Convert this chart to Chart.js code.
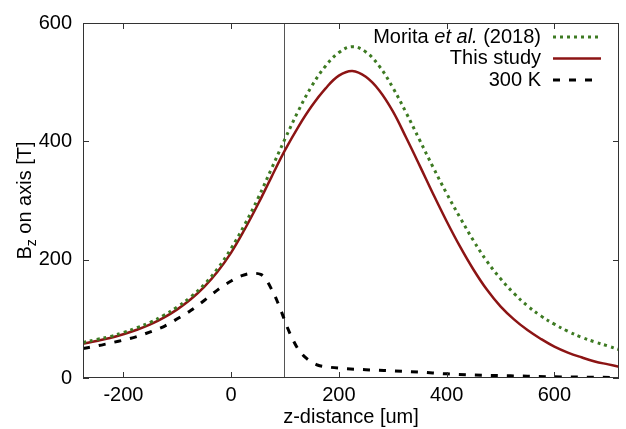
<!DOCTYPE html>
<html>
<head>
<meta charset="utf-8">
<script src="https://cdn.jsdelivr.net/npm/chart.js@4.4.1/dist/chart.umd.min.js"></script>
<style>
    html, body { margin: 0; padding: 0; background: #fff; }
    #wrap { width: 626px; height: 429px; }
</style>
</head>
<body>
<div id="wrap"><canvas id="bzchart"></canvas></div>
<script>
// z positions [um] shared by the two full-field curves
var zGrid = [-275, -250, -225, -200, -175, -150, -125, -100, -75, -50, -25, 0, 25, 50, 75, 100,
    125, 150, 175, 200, 225, 250, 275, 300, 325, 350, 375, 400, 425, 450, 475, 500, 525, 550,
    575, 600, 625, 650, 675, 700, 720];
var thisStudy = [58, 62.5, 67.5, 74, 81.5, 90.5, 102, 116, 133, 154, 180, 212, 251, 294, 340, 385,
    425, 460, 489, 511, 519, 509, 486, 451, 406, 359, 311, 265, 222, 183, 149, 121, 99, 81,
    66, 53, 43, 35, 28, 23, 19];
var morita2018 = [60, 65, 70, 77, 85, 94, 106, 120, 137, 158, 185, 219, 259, 304, 354, 404,
    452, 494, 527, 550, 560, 551, 527, 491, 448, 402, 356, 312, 271, 232, 197, 168, 143, 122,
    105, 91, 79, 69, 61, 54, 48];

// 300 K curve, sampled more densely around its peak
var zWarm = [-275, -250, -225, -200, -175, -150, -125, -100, -75, -50, -25, 0, 20, 40, 55, 65,
    75, 85, 95, 105, 115, 125, 140, 160, 185, 210, 250, 300, 350, 400, 450, 500, 550, 600, 650, 720];
var warm300K = [50, 54, 59, 64, 70, 78, 87, 100, 114, 131, 149, 164, 173, 177, 175, 166,
    150, 131, 108, 84, 64, 48, 33, 22, 18, 16, 14, 12, 10, 7, 5, 4, 3, 2, 1.5, 0.8];

var xTicks = [-200, 0, 200, 400, 600];
var yTicks = [0, 200, 400, 600];
var markerZ = 98;

var FONT = '"Liberation Sans", Arial, Helvetica, sans-serif';
var RED = '#8c1414';
var GREEN = '#3d7a22';

function toPoints(xs, ys) {
    return xs.map(function (x, i) {
        return {x: x, y: ys[i]};
    });
}

var legendRows = [
    {parts: [['Morita ', ''], ['et al.', 'italic '], [' (2018)', '']], color: GREEN, dash: [3, 4], width: 3},
    {parts: [['This study', '']], color: RED, dash: [], width: 2.5},
    {parts: [['300 K', '']], color: '#000', dash: [7, 9], width: 3}
];

var framePlugin = {
    id: 'frame',
    beforeDatasetsDraw: function (chart) {
        var ctx = chart.ctx;
        var area = chart.chartArea;
        var px = chart.scales.x.getPixelForValue(markerZ);
        ctx.save();
        ctx.strokeStyle = '#555';
        ctx.lineWidth = 1;
        ctx.beginPath();
        ctx.moveTo(Math.round(px) + 0.5, area.top);
        ctx.lineTo(Math.round(px) + 0.5, area.bottom);
        ctx.stroke();
        ctx.restore();
    },
    afterDatasetsDraw: function (chart) {
        var ctx = chart.ctx;
        var area = chart.chartArea;
        var xs = chart.scales.x;
        var ys = chart.scales.y;
        ctx.save();
        ctx.strokeStyle = '#333';
        ctx.lineWidth = 1;
        ctx.strokeRect(area.left + 0.5, area.top + 0.5, area.right - area.left - 1, area.bottom - area.top - 1);

        // gnuplot style inward ticks, mirrored
        ctx.beginPath();
        xTicks.forEach(function (v) {
            var p = Math.round(xs.getPixelForValue(v)) + 0.5;
            ctx.moveTo(p, area.bottom);
            ctx.lineTo(p, area.bottom - 6);
            ctx.moveTo(p, area.top);
            ctx.lineTo(p, area.top + 6);
        });
        yTicks.forEach(function (v) {
            var p = Math.round(ys.getPixelForValue(v)) + 0.5;
            ctx.moveTo(area.left, p);
            ctx.lineTo(area.left + 6, p);
            ctx.moveTo(area.right, p);
            ctx.lineTo(area.right - 6, p);
        });
        ctx.stroke();

        // legend
        var textRight = 541;
        var lineX0 = 553;
        var lineX1 = 601;
        ctx.textBaseline = 'middle';
        legendRows.forEach(function (row, i) {
            var y = 37 + i * 21.5;
            var x = textRight;
            ctx.fillStyle = '#000';
            for (var k = row.parts.length - 1; k >= 0; k--) {
                ctx.font = row.parts[k][1] + '20px ' + FONT;
                ctx.textAlign = 'right';
                ctx.fillText(row.parts[k][0], x, y);
                x -= ctx.measureText(row.parts[k][0]).width;
            }
            ctx.strokeStyle = row.color;
            ctx.lineWidth = row.width;
            ctx.setLineDash(row.dash);
            ctx.beginPath();
            ctx.moveTo(lineX0, y);
            ctx.lineTo(lineX1, y);
            ctx.stroke();
            ctx.setLineDash([]);
        });

        // y axis title with subscript
        ctx.translate(24, (area.top + area.bottom) / 2);
        ctx.rotate(-Math.PI / 2);
        ctx.fillStyle = '#000';
        ctx.textAlign = 'left';
        ctx.textBaseline = 'alphabetic';
        var big = '20px ' + FONT;
        var small = '14px ' + FONT;
        ctx.font = big;
        var wB = ctx.measureText('B').width;
        var rest = ' on axis [T]';
        var wRest = ctx.measureText(rest).width;
        ctx.font = small;
        var wZ = ctx.measureText('z').width;
        var start = -(wB + wZ + wRest) / 2;
        ctx.font = big;
        ctx.fillText('B', start, 7);
        ctx.font = small;
        ctx.fillText('z', start + wB, 12);
        ctx.font = big;
        ctx.fillText(rest, start + wB + wZ, 7);
        ctx.restore();
    }
};

var ctx = document.getElementById('bzchart');
new Chart(ctx, {
    type: 'line',
    data: {
        datasets: [{
            label: 'Morita et al. (2018)',
            data: toPoints(zGrid, morita2018),
            borderColor: GREEN,
            borderWidth: 3,
            borderDash: [3, 4],
            pointRadius: 0,
            tension: 0.4
        }, {
            label: 'This study',
            data: toPoints(zGrid, thisStudy),
            borderColor: RED,
            borderWidth: 2.5,
            pointRadius: 0,
            tension: 0.4
        }, {
            label: '300 K',
            data: toPoints(zWarm, warm300K),
            borderColor: '#000',
            borderWidth: 3,
            borderDash: [7, 9],
            pointRadius: 0,
            cubicInterpolationMode: 'monotone'
        }]
    },
    options: {
        responsive: true,
        maintainAspectRatio: false,
        animation: false,
        layout: {padding: {top: 19, right: 7, left: 0, bottom: 0}},
        plugins: {
            legend: {display: false},
            tooltip: {enabled: false}
        },
        scales: {
            x: {
                type: 'linear',
                min: -275,
                max: 720,
                afterBuildTicks: function (scale) {
                    scale.ticks = xTicks.map(function (v) { return {value: v}; });
                },
                afterFit: function (scale) { scale.height = 51; },
                grid: {display: true, drawOnChartArea: false, drawTicks: false},
                border: {display: false},
                ticks: {color: '#000', padding: 5, maxRotation: 0, font: {family: FONT, size: 20}},
                title: {
                    display: true,
                    text: 'z-distance [um]',
                    color: '#000',
                    padding: {top: 0, bottom: 0},
                    font: {family: FONT, size: 20}
                }
            },
            y: {
                min: 0,
                max: 600,
                afterBuildTicks: function (scale) {
                    scale.ticks = yTicks.map(function (v) { return {value: v}; });
                },
                afterFit: function (scale) { scale.width = 83; },
                grid: {display: true, drawOnChartArea: false, drawTicks: false},
                border: {display: false},
                ticks: {color: '#000', padding: 11, font: {family: FONT, size: 20}}
            }
        }
    },
    plugins: [framePlugin]
});
</script>
</body>
</html>
